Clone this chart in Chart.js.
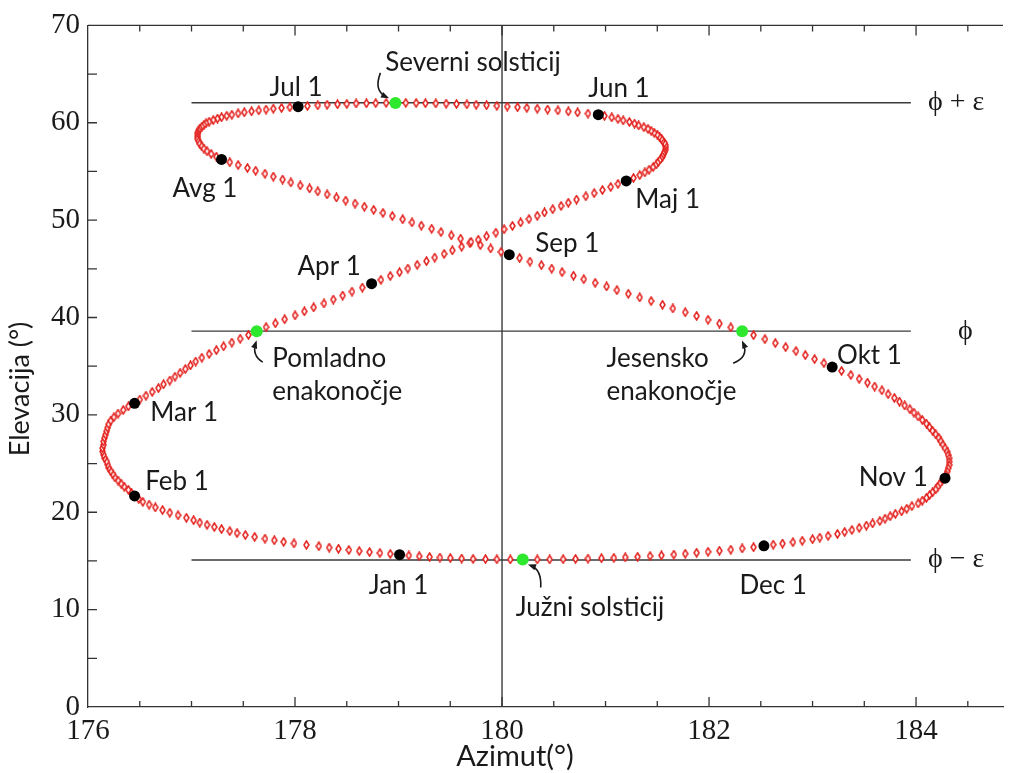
<!DOCTYPE html>
<html>
<head>
<meta charset="utf-8">
<script src="https://cdn.jsdelivr.net/npm/chart.js@4.4.1/dist/chart.umd.min.js"></script>
<style>
  html, body { margin: 0; padding: 0; background: #fff; }
</style>
</head>
<body>
<canvas id="analema" width="1009" height="773"></canvas>
<script>
// Lega Sonca ob istem času vsak dan (azimut, elevacija v stopinjah), po mesecih
const azimutMesec = [
    [179.01, 178.92, 178.82, 178.72, 178.62, 178.52, 178.42, 178.33, 178.23, 178.11, 177.99, 177.89, 177.80, 177.71, 177.61, 177.52, 177.44, 177.37, 177.29, 177.22, 177.15, 177.08, 177.02, 176.95, 176.87, 176.79, 176.72, 176.65, 176.59, 176.53, 176.49],
    [176.45, 176.42, 176.39, 176.35, 176.32, 176.29, 176.26, 176.24, 176.22, 176.20, 176.19, 176.18, 176.16, 176.15, 176.14, 176.14, 176.15, 176.15, 176.16, 176.17, 176.18, 176.19, 176.20, 176.22, 176.25, 176.29, 176.34, 176.39],
    [176.45, 176.50, 176.56, 176.62, 176.68, 176.73, 176.79, 176.84, 176.89, 176.94, 176.99, 177.04, 177.10, 177.17, 177.24, 177.31, 177.39, 177.47, 177.55, 177.63, 177.72, 177.81, 177.90, 178.00, 178.09, 178.18, 178.28, 178.37, 178.46, 178.55, 178.65],
    [178.74, 178.83, 178.92, 179.01, 179.09, 179.18, 179.27, 179.35, 179.44, 179.52, 179.61, 179.69, 179.77, 179.85, 179.94, 180.02, 180.10, 180.18, 180.26, 180.34, 180.41, 180.49, 180.57, 180.64, 180.72, 180.81, 180.89, 180.97, 181.05, 181.12],
    [181.20, 181.27, 181.33, 181.38, 181.42, 181.46, 181.49, 181.51, 181.53, 181.55, 181.56, 181.57, 181.58, 181.58, 181.58, 181.57, 181.55, 181.54, 181.52, 181.50, 181.47, 181.44, 181.41, 181.37, 181.32, 181.28, 181.23, 181.17, 181.12, 181.06, 180.99],
    [180.93, 180.83, 180.73, 180.64, 180.54, 180.44, 180.34, 180.24, 180.15, 180.05, 179.95, 179.85, 179.75, 179.66, 179.56, 179.46, 179.36, 179.26, 179.17, 179.07, 178.97, 178.88, 178.78, 178.69, 178.59, 178.50, 178.41, 178.31, 178.22, 178.12],
    [178.03, 177.95, 177.87, 177.79, 177.72, 177.65, 177.58, 177.51, 177.45, 177.39, 177.34, 177.29, 177.25, 177.21, 177.17, 177.14, 177.12, 177.10, 177.08, 177.07, 177.06, 177.06, 177.06, 177.06, 177.07, 177.08, 177.10, 177.12, 177.15, 177.19, 177.24],
    [177.29, 177.37, 177.45, 177.54, 177.62, 177.71, 177.79, 177.88, 177.96, 178.05, 178.14, 178.22, 178.31, 178.40, 178.49, 178.58, 178.67, 178.76, 178.85, 178.94, 179.04, 179.13, 179.22, 179.32, 179.41, 179.51, 179.60, 179.70, 179.79, 179.89, 179.99],
    [180.07, 180.17, 180.27, 180.38, 180.48, 180.58, 180.69, 180.79, 180.90, 181.01, 181.11, 181.22, 181.33, 181.44, 181.55, 181.65, 181.77, 181.88, 181.99, 182.10, 182.21, 182.32, 182.43, 182.54, 182.64, 182.74, 182.84, 182.93, 183.02, 183.11],
    [183.19, 183.28, 183.37, 183.45, 183.53, 183.60, 183.67, 183.73, 183.79, 183.84, 183.89, 183.94, 183.98, 184.02, 184.06, 184.10, 184.13, 184.16, 184.19, 184.22, 184.24, 184.26, 184.28, 184.30, 184.31, 184.32, 184.32, 184.32, 184.31, 184.30, 184.29],
    [184.28, 184.25, 184.23, 184.21, 184.19, 184.16, 184.13, 184.10, 184.06, 184.02, 183.96, 183.91, 183.86, 183.80, 183.75, 183.70, 183.65, 183.58, 183.52, 183.45, 183.38, 183.31, 183.24, 183.15, 183.07, 183.00, 182.90, 182.81, 182.71, 182.62],
    [182.53, 182.43, 182.32, 182.21, 182.10, 181.99, 181.88, 181.77, 181.66, 181.54, 181.43, 181.31, 181.19, 181.08, 180.96, 180.83, 180.71, 180.59, 180.46, 180.34, 180.20, 180.08, 179.95, 179.84, 179.72, 179.61, 179.50, 179.40, 179.30, 179.20, 179.10]
];
const elevacijaMesec = [
    [15.64, 15.72, 15.81, 15.91, 16.01, 16.13, 16.25, 16.37, 16.51, 16.65, 16.80, 16.96, 17.12, 17.29, 17.47, 17.66, 17.86, 18.06, 18.27, 18.49, 18.71, 18.94, 19.18, 19.43, 19.69, 19.95, 20.22, 20.50, 20.78, 21.07, 21.37],
    [21.68, 21.99, 22.30, 22.62, 22.94, 23.26, 23.58, 23.91, 24.23, 24.56, 24.89, 25.22, 25.56, 25.90, 26.24, 26.58, 26.92, 27.27, 27.62, 27.97, 28.32, 28.68, 29.04, 29.40, 29.76, 30.13, 30.50, 30.87],
    [31.19, 31.58, 31.97, 32.36, 32.75, 33.14, 33.53, 33.92, 34.31, 34.70, 35.09, 35.48, 35.87, 36.26, 36.65, 37.04, 37.43, 37.82, 38.21, 38.60, 39.01, 39.41, 39.82, 40.22, 40.63, 41.04, 41.44, 41.85, 42.26, 42.66, 43.07],
    [43.48, 43.87, 44.26, 44.65, 45.03, 45.41, 45.79, 46.16, 46.53, 46.90, 47.27, 47.63, 47.99, 48.35, 48.71, 49.06, 49.41, 49.76, 50.11, 50.45, 50.79, 51.12, 51.46, 51.79, 52.12, 52.45, 52.77, 53.09, 53.41, 53.72],
    [54.03, 54.33, 54.62, 54.90, 55.18, 55.46, 55.73, 55.99, 56.25, 56.51, 56.76, 57.00, 57.24, 57.48, 57.71, 57.93, 58.15, 58.37, 58.58, 58.78, 58.98, 59.18, 59.37, 59.55, 59.73, 59.91, 60.08, 60.24, 60.40, 60.56, 60.71],
    [60.83, 60.95, 61.06, 61.17, 61.27, 61.36, 61.45, 61.53, 61.60, 61.67, 61.74, 61.80, 61.85, 61.89, 61.93, 61.96, 61.99, 62.01, 62.03, 62.04, 62.04, 62.04, 62.02, 62.00, 61.98, 61.94, 61.90, 61.85, 61.79, 61.72],
    [61.65, 61.59, 61.52, 61.45, 61.36, 61.27, 61.18, 61.07, 60.96, 60.83, 60.71, 60.57, 60.42, 60.27, 60.11, 59.95, 59.77, 59.59, 59.40, 59.20, 58.99, 58.78, 58.56, 58.33, 58.10, 57.85, 57.60, 57.34, 57.07, 56.80, 56.52],
    [56.24, 55.95, 55.66, 55.36, 55.07, 54.77, 54.47, 54.17, 53.87, 53.56, 53.26, 52.95, 52.64, 52.33, 52.01, 51.70, 51.38, 51.06, 50.74, 50.42, 50.09, 49.77, 49.44, 49.11, 48.77, 48.44, 48.10, 47.77, 47.43, 47.09, 46.74],
    [46.45, 46.10, 45.74, 45.38, 45.02, 44.66, 44.29, 43.93, 43.56, 43.19, 42.81, 42.44, 42.06, 41.69, 41.31, 40.93, 40.54, 40.16, 39.77, 39.38, 38.99, 38.60, 38.19, 37.78, 37.37, 36.96, 36.55, 36.14, 35.73, 35.32],
    [34.91, 34.51, 34.10, 33.70, 33.31, 32.91, 32.52, 32.13, 31.74, 31.36, 30.97, 30.59, 30.22, 29.84, 29.47, 29.10, 28.73, 28.37, 28.00, 27.64, 27.29, 26.93, 26.58, 26.23, 25.88, 25.54, 25.19, 24.85, 24.52, 24.18, 23.85],
    [23.50, 23.21, 22.92, 22.63, 22.34, 22.05, 21.76, 21.48, 21.19, 20.90, 20.63, 20.36, 20.10, 19.84, 19.59, 19.34, 19.10, 18.86, 18.63, 18.40, 18.18, 17.97, 17.77, 17.58, 17.40, 17.23, 17.07, 16.92, 16.79, 16.67],
    [16.55, 16.41, 16.28, 16.16, 16.05, 15.94, 15.84, 15.74, 15.65, 15.57, 15.50, 15.43, 15.37, 15.32, 15.28, 15.24, 15.21, 15.18, 15.16, 15.15, 15.15, 15.15, 15.17, 15.19, 15.21, 15.25, 15.30, 15.35, 15.41, 15.48, 15.56]
];

// solsticija in enakonočja: [mesec (0 = jan), dan]
const posebniDnevi = [[2, 20], [5, 21], [8, 22], [11, 21]];

// vodoravne črte phi + eps, phi, phi - eps in navpičnica pri 180
const phiRavni = [62.05, 38.6, 15.1];
const phiOznake = ['\u03D5 + \u03B5', '\u03D5', '\u03D5 \u2212 \u03B5'];
const crtaOd = 177;
const crtaDo = 183.95;
const navpicnica = 180;

// oznake datumov (sredina besedila, v koordinatah grafa)
const oznake = ['Jul 1', 'Jun 1', 'Severni solsticij', 'Avg 1', 'Maj 1', 'Sep 1', 'Apr 1', 'Okt 1', 'Mar 1', 'Feb 1', 'Nov 1', 'Jan 1', 'Dec 1', 'Južni solsticij'];
const oznakeAz = [178.01, 181.13, 179.72, 177.13, 181.6, 180.63, 178.33, 183.55, 176.93, 176.86, 183.78, 179.0, 182.62, 180.85];
const oznakeEl = [63.58, 63.48, 66.13, 53.19, 52.07, 47.59, 45.24, 36.07, 30.26, 23.13, 23.54, 12.43, 12.43, 10.19];

// enakonočja: dve vrstici, poravnano levo
const enakoOznake = [['Pomladno', 'enakonočje'], ['Jesensko', 'enakonočje']];
const enakoAz = [177.78, 181.01];
const enakoEl = [35.77, 35.77];

// puščice k zelenim točkam (odmiki v pikslih: začetek, kontrolna točka, konec)
const puscice = [
    [6, 31, -5, 24, -1, 12],
    [-15, -30, -22, -12, -9, -6],
    [-9, 32, 7, 26, 1, 12],
    [18, 28, 19, 10, 8, 6]
];

const RDECA = '#e3211d';
const CRNA = '#1a1a1a';

const dnevi = [];
azimutMesec.forEach((mes, m) => mes.forEach((a, d) => dnevi.push({ x: a, y: elevacijaMesec[m][d] })));
const prviDnevi = azimutMesec.map((mes, m) => ({ x: mes[0], y: elevacijaMesec[m][0] }));
const zeleneTocke = posebniDnevi.map(([m, d]) => ({ x: azimutMesec[m][d - 1], y: elevacijaMesec[m][d - 1] }));

function romb() {
    const c = document.createElement('canvas');
    c.width = 7;
    c.height = 10;
    const g = c.getContext('2d');
    g.beginPath();
    g.moveTo(3.5, 1);
    g.lineTo(6, 5);
    g.lineTo(3.5, 9);
    g.lineTo(1, 5);
    g.closePath();
    g.fillStyle = '#fff';
    g.fill();
    g.strokeStyle = RDECA;
    g.lineWidth = 1.5;
    g.stroke();
    return c;
}

const crte = phiRavni.map(v => ({
    data: [{ x: crtaOd, y: v }, { x: crtaDo, y: v }],
    showLine: true, pointRadius: 0, borderColor: '#3a3a3a', borderWidth: 1.4, order: 3
}));
crte.push({
    data: [{ x: navpicnica, y: 0 }, { x: navpicnica, y: 70 }],
    showLine: true, pointRadius: 0, borderColor: '#3a3a3a', borderWidth: 1.4, order: 3
});

const okvir = {
    id: 'okvir',
    afterDraw(chart) {
        const { ctx, chartArea: a, scales: { x, y } } = chart;
        ctx.save();
        ctx.strokeStyle = '#333';
        ctx.lineWidth = 1.3;
        ctx.beginPath();
        ctx.moveTo(a.left, a.top);
        ctx.lineTo(a.right, a.top);
        ctx.stroke();

        // kljukice navznoter
        ctx.beginPath();
        x.ticks.forEach(t => {
            if (t.value <= 176) return;
            const px = x.getPixelForValue(t.value);
            const len = t.value % 2 === 0 ? 10 : 6;
            ctx.moveTo(px, a.bottom);
            ctx.lineTo(px, a.bottom - len);
            ctx.moveTo(px, a.top);
            ctx.lineTo(px, a.top + len);
        });
        y.ticks.forEach(t => {
            if (t.value <= 0 || t.value >= 70) return;
            const py = y.getPixelForValue(t.value);
            ctx.moveTo(a.left, py);
            ctx.lineTo(a.left + 9, py);
        });
        ctx.stroke();

        // naslova osi
        ctx.fillStyle = CRNA;
        ctx.textAlign = 'center';
        ctx.textBaseline = 'middle';
        ctx.font = '29px Lato';
        ctx.fillText('Azimut(°)', 515, 757);
        ctx.font = '27px Lato';
        ctx.save();
        ctx.translate(20, 389);
        ctx.rotate(-Math.PI / 2);
        ctx.fillText('Elevacija (°)', 0, 0);
        ctx.restore();

        // oznake datumov
        ctx.font = '26px Lato';
        oznake.forEach((t, i) => {
            ctx.fillText(t, x.getPixelForValue(oznakeAz[i]), y.getPixelForValue(oznakeEl[i]));
        });
        ctx.textAlign = 'left';
        enakoOznake.forEach((vrstice, i) => {
            const px = x.getPixelForValue(enakoAz[i]);
            const py = y.getPixelForValue(enakoEl[i]);
            ctx.fillText(vrstice[0], px, py);
            ctx.fillText(vrstice[1], px, py + 33);
        });

        // phi oznake desno
        ctx.font = '28px "Liberation Serif", "DejaVu Serif", serif';
        phiOznake.forEach((t, i) => {
            const px = i === 1 ? 958 : 928;
            ctx.fillText(t, px, y.getPixelForValue(phiRavni[i]));
        });

        // puščice
        ctx.strokeStyle = CRNA;
        ctx.lineWidth = 1.6;
        zeleneTocke.forEach((p, i) => {
            const cx = x.getPixelForValue(p.x);
            const cy = y.getPixelForValue(p.y);
            const [sx, sy, kx, ky, ex, ey] = puscice[i];
            ctx.beginPath();
            ctx.moveTo(cx + sx, cy + sy);
            ctx.quadraticCurveTo(cx + kx, cy + ky, cx + ex, cy + ey);
            ctx.stroke();
            const ang = Math.atan2(ey - ky, ex - kx);
            const tx = cx + ex, ty = cy + ey;
            ctx.beginPath();
            ctx.moveTo(tx + Math.cos(ang) * 3, ty + Math.sin(ang) * 3);
            ctx.lineTo(tx + Math.cos(ang + 2.6) * 6, ty + Math.sin(ang + 2.6) * 6);
            ctx.lineTo(tx + Math.cos(ang - 2.6) * 6, ty + Math.sin(ang - 2.6) * 6);
            ctx.closePath();
            ctx.fillStyle = CRNA;
            ctx.fill();
        });
        ctx.restore();
    }
};

const tickFont = { family: '"Liberation Serif", "Times New Roman", serif', size: 29 };

new Chart(document.getElementById('analema'), {
    type: 'scatter',
    data: {
        datasets: [
            ...crte,
            {
                data: dnevi,
                pointStyle: romb(),
                pointRadius: 4,
                showLine: false,
                order: 2
            },
            {
                data: prviDnevi,
                pointStyle: 'circle',
                pointRadius: 5.5,
                backgroundColor: '#000',
                borderWidth: 0,
                order: 1
            },
            {
                data: zeleneTocke,
                pointStyle: 'circle',
                pointRadius: 6,
                backgroundColor: '#2ee82e',
                borderWidth: 0,
                order: 0
            }
        ]
    },
    options: {
        responsive: false,
        animation: false,
        devicePixelRatio: 1,
        layout: { padding: { top: 20, right: 0, left: 0, bottom: 0 } },
        plugins: { legend: { display: false }, tooltip: { enabled: false } },
        scales: {
            x: {
                type: 'linear',
                position: 'bottom',
                min: 176,
                max: 184.84,
                grid: { display: false, drawTicks: false },
                border: { display: true, color: '#333', width: 1.3 },
                ticks: {
                    stepSize: 0.5,
                    includeBounds: false,
                    autoSkip: false,
                    maxRotation: 0,
                    padding: 7,
                    color: CRNA,
                    font: tickFont,
                    callback: v => (v % 2 === 0 ? String(v) : '')
                },
                afterFit: s => { s.height = 66; }
            },
            y: {
                type: 'linear',
                min: 0,
                max: 70,
                grid: { display: false, drawTicks: false },
                border: { display: true, color: '#333', width: 1.3 },
                ticks: {
                    stepSize: 5,
                    autoSkip: false,
                    padding: 8,
                    color: CRNA,
                    font: tickFont,
                    callback: v => (v % 10 === 0 ? String(v) : '')
                },
                afterFit: s => { s.width = 88; }
            }
        }
    },
    plugins: [okvir]
});
</script>
</body>
</html>
